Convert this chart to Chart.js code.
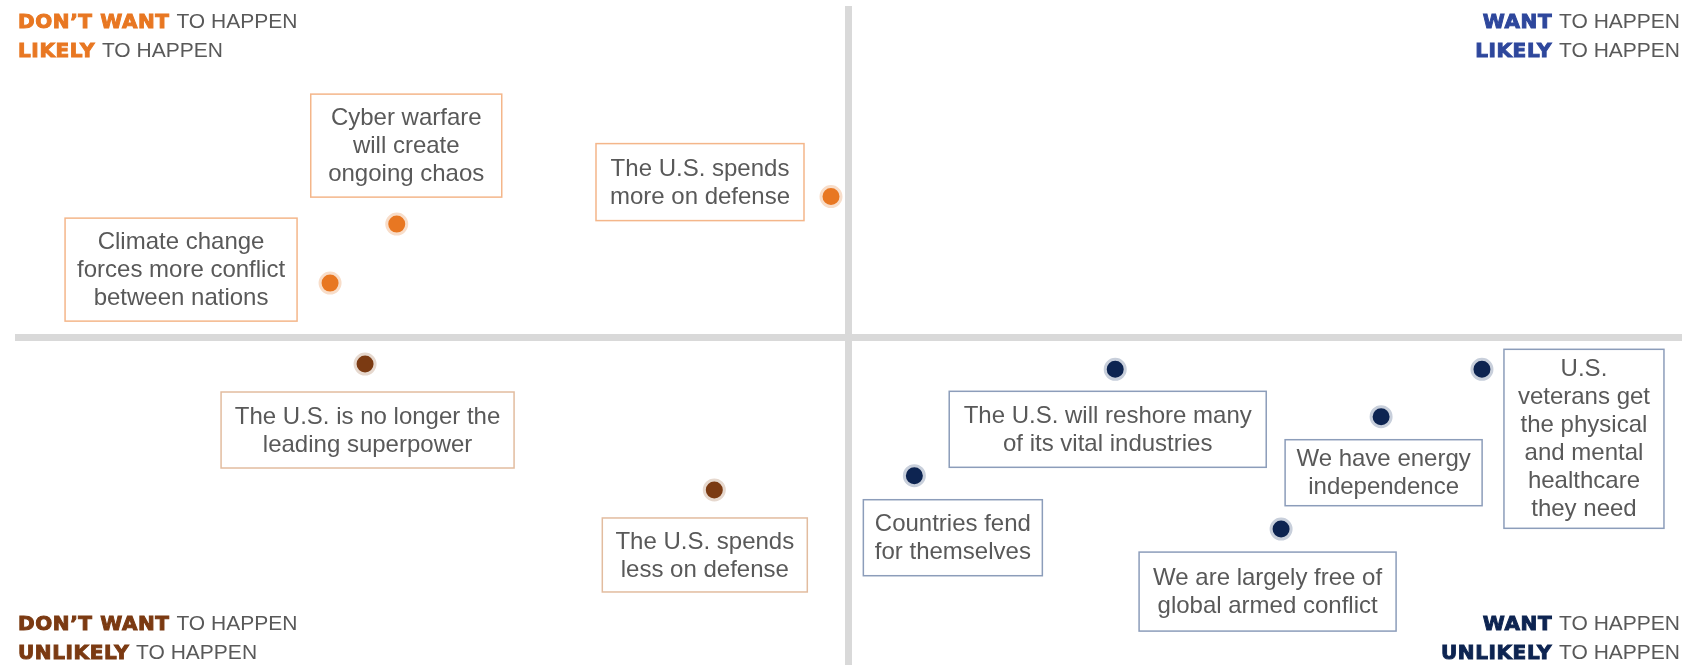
<!DOCTYPE html>
<html>
<head>
<meta charset="utf-8">
<script src="https://cdn.jsdelivr.net/npm/chart.js@4/dist/chart.umd.min.js"></script>
<style>
  html, body { margin: 0; padding: 0; background: #fff; }
  #wrap { width: 1706px; height: 665px; position: relative; }
</style>
</head>
<body>
<div id="wrap"><canvas id="quadChart"></canvas></div>
<script>
// x: want to happen (+) / don't want (-), y: likely (+) / unlikely (-)
const likelyLabels = ["Cyber warfare\nwill create\nongoing chaos", "Climate change\nforces more conflict\nbetween nations", "The U.S. spends\nmore on defense"];
const likelyX = [-5.42, -6.22, -0.21];
const likelyY = [3.42, 1.64, 4.25];

const unwantedLabels = ["The U.S. is no longer the\nleading superpower", "The U.S. spends\nless on defense"];
const unwantedX = [-5.80, -1.61];
const unwantedY = [-0.80, -4.60];

const wantedLabels = ["The U.S. will reshore many\nof its vital industries", "U.S.\nveterans get\nthe physical\nand mental\nhealthcare\nthey need", "We have energy\nindependence", "Countries fend\nfor themselves", "We are largely free of\nglobal armed conflict"];
const wantedX = [3.20, 7.60, 6.39, 0.79, 5.19];
const wantedY = [-0.96, -0.96, -2.39, -4.17, -5.78];

// box placement relative to its point (px)
const likelyBoxes = [
  { dx: -86, dy: -130, w: 191, h: 103 },
  { dx: -265, dy: -65, w: 232, h: 103 },
  { dx: -235, dy: -53, w: 208, h: 77 }
];
const unwantedBoxes = [
  { dx: -144, dy: 28, w: 293, h: 76 },
  { dx: -112, dy: 28, w: 205, h: 74 }
];
const wantedBoxes = [
  { dx: -166, dy: 22, w: 317, h: 76 },
  { dx: 22, dy: -20, w: 160, h: 179 },
  { dx: -96, dy: 23, w: 197, h: 66 },
  { dx: -51, dy: 24, w: 179, h: 76 },
  { dx: -142, dy: 23, w: 257, h: 79 }
];

const greyText = "#595959";
const textFont = "24px 'Liberation Sans', Arial, sans-serif";

function toPoints(xs, ys) {
  return xs.map((x, i) => ({ x: x, y: ys[i] }));
}

// draws the bordered text boxes next to each point
const boxLabels = {
  id: 'boxLabels',
  afterDatasetsDraw(chart) {
    const ctx = chart.ctx;
    chart.data.datasets.forEach((ds, i) => {
      const meta = chart.getDatasetMeta(i);
      meta.data.forEach((pt, j) => {
        const b = ds.boxes[j];
        const bx = pt.x + b.dx;
        const by = pt.y + b.dy;
        ctx.save();
        ctx.fillStyle = "#fff";
        ctx.fillRect(bx, by, b.w, b.h);
        ctx.strokeStyle = ds.boxBorder;
        ctx.lineWidth = 1.5;
        ctx.strokeRect(bx, by, b.w, b.h);
        const lines = ds.texts[j].split("\n");
        const lh = 28;
        ctx.fillStyle = greyText;
        ctx.font = textFont;
        ctx.textAlign = "center";
        ctx.textBaseline = "middle";
        const cy = by + b.h / 2 - (lines.length - 1) * lh / 2 + 1;
        lines.forEach((line, k) => {
          ctx.fillText(line, bx + b.w / 2, cy + k * lh);
        });
        ctx.restore();
      });
    });
  }
};

// quadrant captions in the four corners
const cornerCaptions = [
  { pos: "tl", color: "#E87722", lines: ["DON\u2019T WANT", "LIKELY"] },
  { pos: "tr", color: "#2E479C", lines: ["WANT", "LIKELY"] },
  { pos: "bl", color: "#7B3A12", lines: ["DON\u2019T WANT", "UNLIKELY"] },
  { pos: "br", color: "#0D2451", lines: ["WANT", "UNLIKELY"] }
];

const corners = {
  id: 'corners',
  afterDraw(chart) {
    const ctx = chart.ctx;
    const area = chart.chartArea;
    const boldFont = "bold 20px 'DejaVu Sans', sans-serif";
    const normFont = "21px 'Liberation Sans', Arial, sans-serif";
    const rest = " TO HAPPEN";
    cornerCaptions.forEach(c => {
      const top = c.pos[0] === "t";
      const left = c.pos[1] === "l";
      const base1 = top ? area.top + 22 : area.bottom - 35;
      c.lines.forEach((bold, k) => {
        const yb = base1 + k * 28.5;
        ctx.save();
        ctx.textBaseline = "alphabetic";
        ctx.textAlign = "left";
        ctx.font = boldFont;
        ctx.letterSpacing = "0.6px";
        const bw = ctx.measureText(bold).width;
        ctx.letterSpacing = "0px";
        ctx.font = normFont;
        const rw = ctx.measureText(rest).width;
        let x = left ? area.left + 3 : area.right - 3 - bw - rw;
        ctx.font = boldFont;
        ctx.letterSpacing = "0.6px";
        ctx.fillStyle = c.color;
        ctx.strokeStyle = c.color;
        ctx.lineWidth = 1;
        ctx.fillText(bold, x, yb);
        ctx.strokeText(bold, x, yb);
        ctx.letterSpacing = "0px";
        ctx.font = normFont;
        ctx.fillStyle = greyText;
        ctx.fillText(rest, x + bw + 1, yb);
        ctx.restore();
      });
    });
  }
};

const zeroLine = c => c.tick.value === 0 ? "#D9D9D9" : "rgba(0,0,0,0)";

new Chart(document.getElementById("quadChart"), {
  type: 'scatter',
  data: {
    datasets: [
      {
        label: "Likely / don't want",
        data: toPoints(likelyX, likelyY),
        texts: likelyLabels,
        boxes: likelyBoxes,
        boxBorder: "#F4B68A",
        backgroundColor: "#E87722",
        borderColor: "#F8DDC9"
      },
      {
        label: "Unlikely / don't want",
        data: toPoints(unwantedX, unwantedY),
        texts: unwantedLabels,
        boxes: unwantedBoxes,
        boxBorder: "#E2BC9F",
        backgroundColor: "#7B3A12",
        borderColor: "#E6D8CE"
      },
      {
        label: "Want",
        data: toPoints(wantedX, wantedY),
        texts: wantedLabels,
        boxes: wantedBoxes,
        boxBorder: "#8C9DBA",
        backgroundColor: "#0D2451",
        borderColor: "#C8CFDB"
      }
    ]
  },
  options: {
    responsive: true,
    maintainAspectRatio: false,
    animation: false,
    layout: { autoPadding: false, padding: { left: 15, right: 24, top: 6, bottom: 0 } },
    elements: {
      point: { radius: 10, borderWidth: 3, hoverRadius: 10 }
    },
    plugins: {
      legend: { display: false },
      tooltip: { enabled: false }
    },
    scales: {
      x: {
        type: 'linear', min: -10, max: 10,
        ticks: { display: false, stepSize: 5 },
        border: { display: false },
        grid: { color: zeroLine, lineWidth: 7, drawTicks: false },
        afterFit: s => { s.height = 0; }
      },
      y: {
        type: 'linear', min: -9.88, max: 10,
        ticks: { display: false, stepSize: 5 },
        border: { display: false },
        grid: { color: zeroLine, lineWidth: 7, drawTicks: false },
        afterFit: s => { s.width = 0; }
      }
    }
  },
  plugins: [boxLabels, corners]
});
</script>
</body>
</html>
